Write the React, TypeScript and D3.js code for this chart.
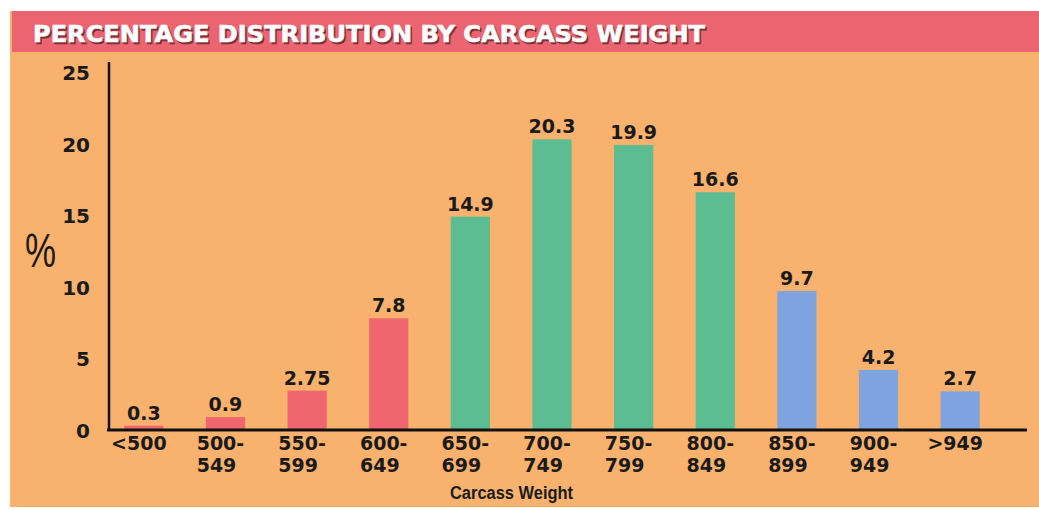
import * as d3 from 'd3'
import { useEffect, useRef } from 'react'

const categories = ['<500', '500-549', '550-599', '600-649', '650-699', '700-749', '750-799', '800-849', '850-899', '900-949', '>949']
const percents = [0.3, 0.9, 2.75, 7.8, 14.9, 20.3, 19.9, 16.6, 9.7, 4.2, 2.7]
const groups = ['low', 'low', 'low', 'low', 'mid', 'mid', 'mid', 'mid', 'high', 'high', 'high']
const yTicks = [0, 5, 10, 15, 20, 25]

const title = 'PERCENTAGE DISTRIBUTION BY CARCASS WEIGHT'
const xTitle = 'Carcass Weight'
const yTitle = '%'

const App = () => {
	const svgRef = useRef<SVGSVGElement>(null)

	const width = 1039
	const height = 510
	const bold = "'DejaVu Sans', sans-serif"

	useEffect(() => {
		const svg = d3.select(svgRef.current)
		svg.selectAll('*').remove()

		// backgrounds
		svg.append('rect').attr('width', width).attr('height', height).attr('fill', '#ffffff')
		svg.append('rect').attr('x', 10).attr('y', 11).attr('width', width - 10).attr('height', 496).attr('fill', '#f8b26e')
		svg.append('rect').attr('x', 12).attr('y', 11).attr('width', width - 12).attr('height', 41).attr('fill', '#ec6470')

		// title with shadow
		const t = (dx, dy, fill) =>
			svg
				.append('text')
				.attr('x', 33 + dx)
				.attr('y', 42 + dy)
				.attr('font-family', bold)
				.attr('font-weight', 900)
				.attr('font-size', 23)
				.attr('textLength', 672)
				.attr('lengthAdjust', 'spacingAndGlyphs')
				.attr('fill', fill)
				.attr('stroke', fill)
				.attr('stroke-width', 0.6)
				.text(title)
		t(1.5, 1.5, '#7a3037')
		t(0, 0, '#ffffff')

		const x = d3.scaleBand().domain(categories).range([103, 1001]).paddingInner(0.52).paddingOuter(0.26)
		const y = d3.scaleLinear().domain([0, 25]).range([430, 72])
		const color = d3.scaleOrdinal().domain(['low', 'mid', 'high']).range(['#f0666f', '#5dbd92', '#7fa3df'])

		const data = categories.map((c, i) => ({ c, v: percents[i], g: groups[i] }))

		// bars
		svg
			.append('g')
			.selectAll('rect')
			.data(data)
			.join('rect')
			.attr('x', (d) => x(d.c))
			.attr('width', x.bandwidth())
			.attr('y', (d) => y(d.v))
			.attr('height', (d) => y(0) - y(d.v))
			.attr('fill', (d) => color(d.g))

		// value labels
		svg
			.append('g')
			.selectAll('text')
			.data(data)
			.join('text')
			.attr('x', (d) => x(d.c) + x.bandwidth() / 2)
			.attr('y', (d) => y(d.v) - 6)
			.attr('text-anchor', 'middle')
			.attr('font-family', bold)
			.attr('font-weight', 'bold')
			.attr('font-size', 19)
			.attr('fill', '#1a1a1a')
			.text((d) => String(d.v))

		// axes
		svg.append('line').attr('x1', 109).attr('x2', 109).attr('y1', 62).attr('y2', y(0)).attr('stroke', '#111').attr('stroke-width', 2.5)
		svg.append('line').attr('x1', 107).attr('x2', 1027).attr('y1', y(0)).attr('y2', y(0)).attr('stroke', '#111').attr('stroke-width', 3)

		svg
			.append('g')
			.selectAll('text')
			.data(yTicks)
			.join('text')
			.attr('x', 90)
			.attr('y', (d) => y(d) + 8)
			.attr('text-anchor', 'end')
			.attr('font-family', bold)
			.attr('font-weight', 'bold')
			.attr('font-size', 20)
			.attr('fill', '#1a1a1a')
			.text((d) => d)

		// category labels: second line left aligned with the first
		const xl = svg.append('g')
		data.forEach((d) => {
			const parts = d.c.includes('-') ? [d.c.split('-')[0] + '-', d.c.split('-')[1]] : [d.c]
			const cx = x(d.c) + x.bandwidth() / 2 - 5
			const first = xl
				.append('text')
				.attr('x', cx)
				.attr('y', 450)
				.attr('text-anchor', 'middle')
				.attr('font-family', bold)
				.attr('font-weight', 'bold')
				.attr('font-size', 19)
				.attr('fill', '#1a1a1a')
				.text(parts[0])
			if (parts[1]) {
				const w = first.node().getComputedTextLength()
				xl.append('text')
					.attr('x', cx - w / 2)
					.attr('y', 472)
					.attr('font-family', bold)
					.attr('font-weight', 'bold')
					.attr('font-size', 19)
					.attr('fill', '#1a1a1a')
					.text(parts[1])
			}
		})

		svg
			.append('text')
			.attr('x', 450)
			.attr('y', 499)
			.attr('font-family', "'Liberation Sans', sans-serif")
			.attr('font-weight', 'bold')
			.attr('font-size', 18)
			.attr('textLength', 123)
			.attr('lengthAdjust', 'spacingAndGlyphs')
			.attr('fill', '#1a1a1a')
			.text(xTitle)

		svg
			.append('text')
			.attr('x', 25)
			.attr('y', 267)
			.attr('font-family', "'Liberation Sans', sans-serif")
			.attr('font-size', 48)
			.attr('textLength', 31)
			.attr('lengthAdjust', 'spacingAndGlyphs')
			.attr('fill', '#1a1a1a')
			.text(yTitle)
	}, [])

	return (
		<svg
			ref={svgRef}
			width={width}
			height={height}
			viewBox={`0 0 ${width} ${height}`}
			style={{ position: 'absolute', left: 0, top: 0 }}
		></svg>
	)
}

export default App
